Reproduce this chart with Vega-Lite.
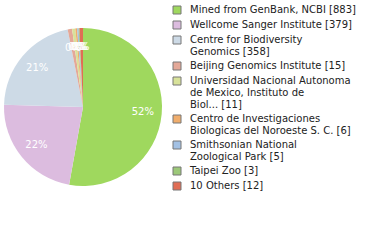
{
  "$schema": "https://vega.github.io/schema/vega-lite/v6.json",
  "width": 166,
  "height": 204,
  "padding": {"left": 0, "top": 5, "right": 0, "bottom": 0},
  "background": "white",
  "config": {
    "view": {"stroke": null},
    "legend": {
      "labelFont": "DejaVu Sans",
      "labelFontSize": 10,
      "labelColor": "#222",
      "labelLimit": 400,
      "symbolType": "square",
      "symbolSize": 64,
      "symbolStrokeColor": "#777",
      "symbolStrokeWidth": 1,
      "rowPadding": 3,
      "labelOffset": 8,
      "offset": 6,
      "padding": 0
    }
  },
  "data": {
    "values": [
      {"k": 1, "name": "Mined from GenBank, NCBI [883]", "n": 883, "pct": "52%"},
      {"k": 2, "name": "Wellcome Sanger Institute [379]", "n": 379, "pct": "22%"},
      {"k": 3, "name": "Centre for Biodiversity\nGenomics [358]", "n": 358, "pct": "21%"},
      {"k": 4, "name": "Beijing Genomics Institute [15]", "n": 15, "pct": "0%"},
      {"k": 5, "name": "Universidad Nacional Autonoma\nde Mexico, Instituto de\nBiol... [11]", "n": 11, "pct": "0%"},
      {"k": 6, "name": "Centro de Investigaciones\nBiologicas del Noroeste S. C. [6]", "n": 6, "pct": "0%"},
      {"k": 7, "name": "Smithsonian National\nZoological Park [5]", "n": 5, "pct": "0%"},
      {"k": 8, "name": "Taipei Zoo [3]", "n": 3, "pct": "0%"},
      {"k": 9, "name": "10 Others [12]", "n": 12, "pct": "1%"}
    ]
  },
  "encoding": {
    "theta": {"field": "n", "type": "quantitative", "stack": true},
    "order": {"field": "k", "type": "quantitative"}
  },
  "layer": [
    {
      "mark": {"type": "arc", "outerRadius": 79},
      "encoding": {
        "color": {
          "field": "name",
          "type": "nominal",
          "scale": {
            "domain": [
              "Mined from GenBank, NCBI [883]",
              "Wellcome Sanger Institute [379]",
              "Centre for Biodiversity\nGenomics [358]",
              "Beijing Genomics Institute [15]",
              "Universidad Nacional Autonoma\nde Mexico, Instituto de\nBiol... [11]",
              "Centro de Investigaciones\nBiologicas del Noroeste S. C. [6]",
              "Smithsonian National\nZoological Park [5]",
              "Taipei Zoo [3]",
              "10 Others [12]"
            ],
            "range": ["#9fd85e", "#dcbcdf", "#cddae6", "#e4a898", "#d8e29a", "#f0ad6c", "#a3c1e4", "#9cc879", "#e06d55"]
          },
          "legend": {"title": null, "orient": "right", "labelExpr": "split(datum.label, '\\n')"}
        }
      }
    },
    {
      "mark": {"type": "text", "radius": 60, "color": "white", "font": "DejaVu Sans", "fontSize": 10},
      "encoding": {"text": {"field": "pct", "type": "nominal"}}
    }
  ]
}
